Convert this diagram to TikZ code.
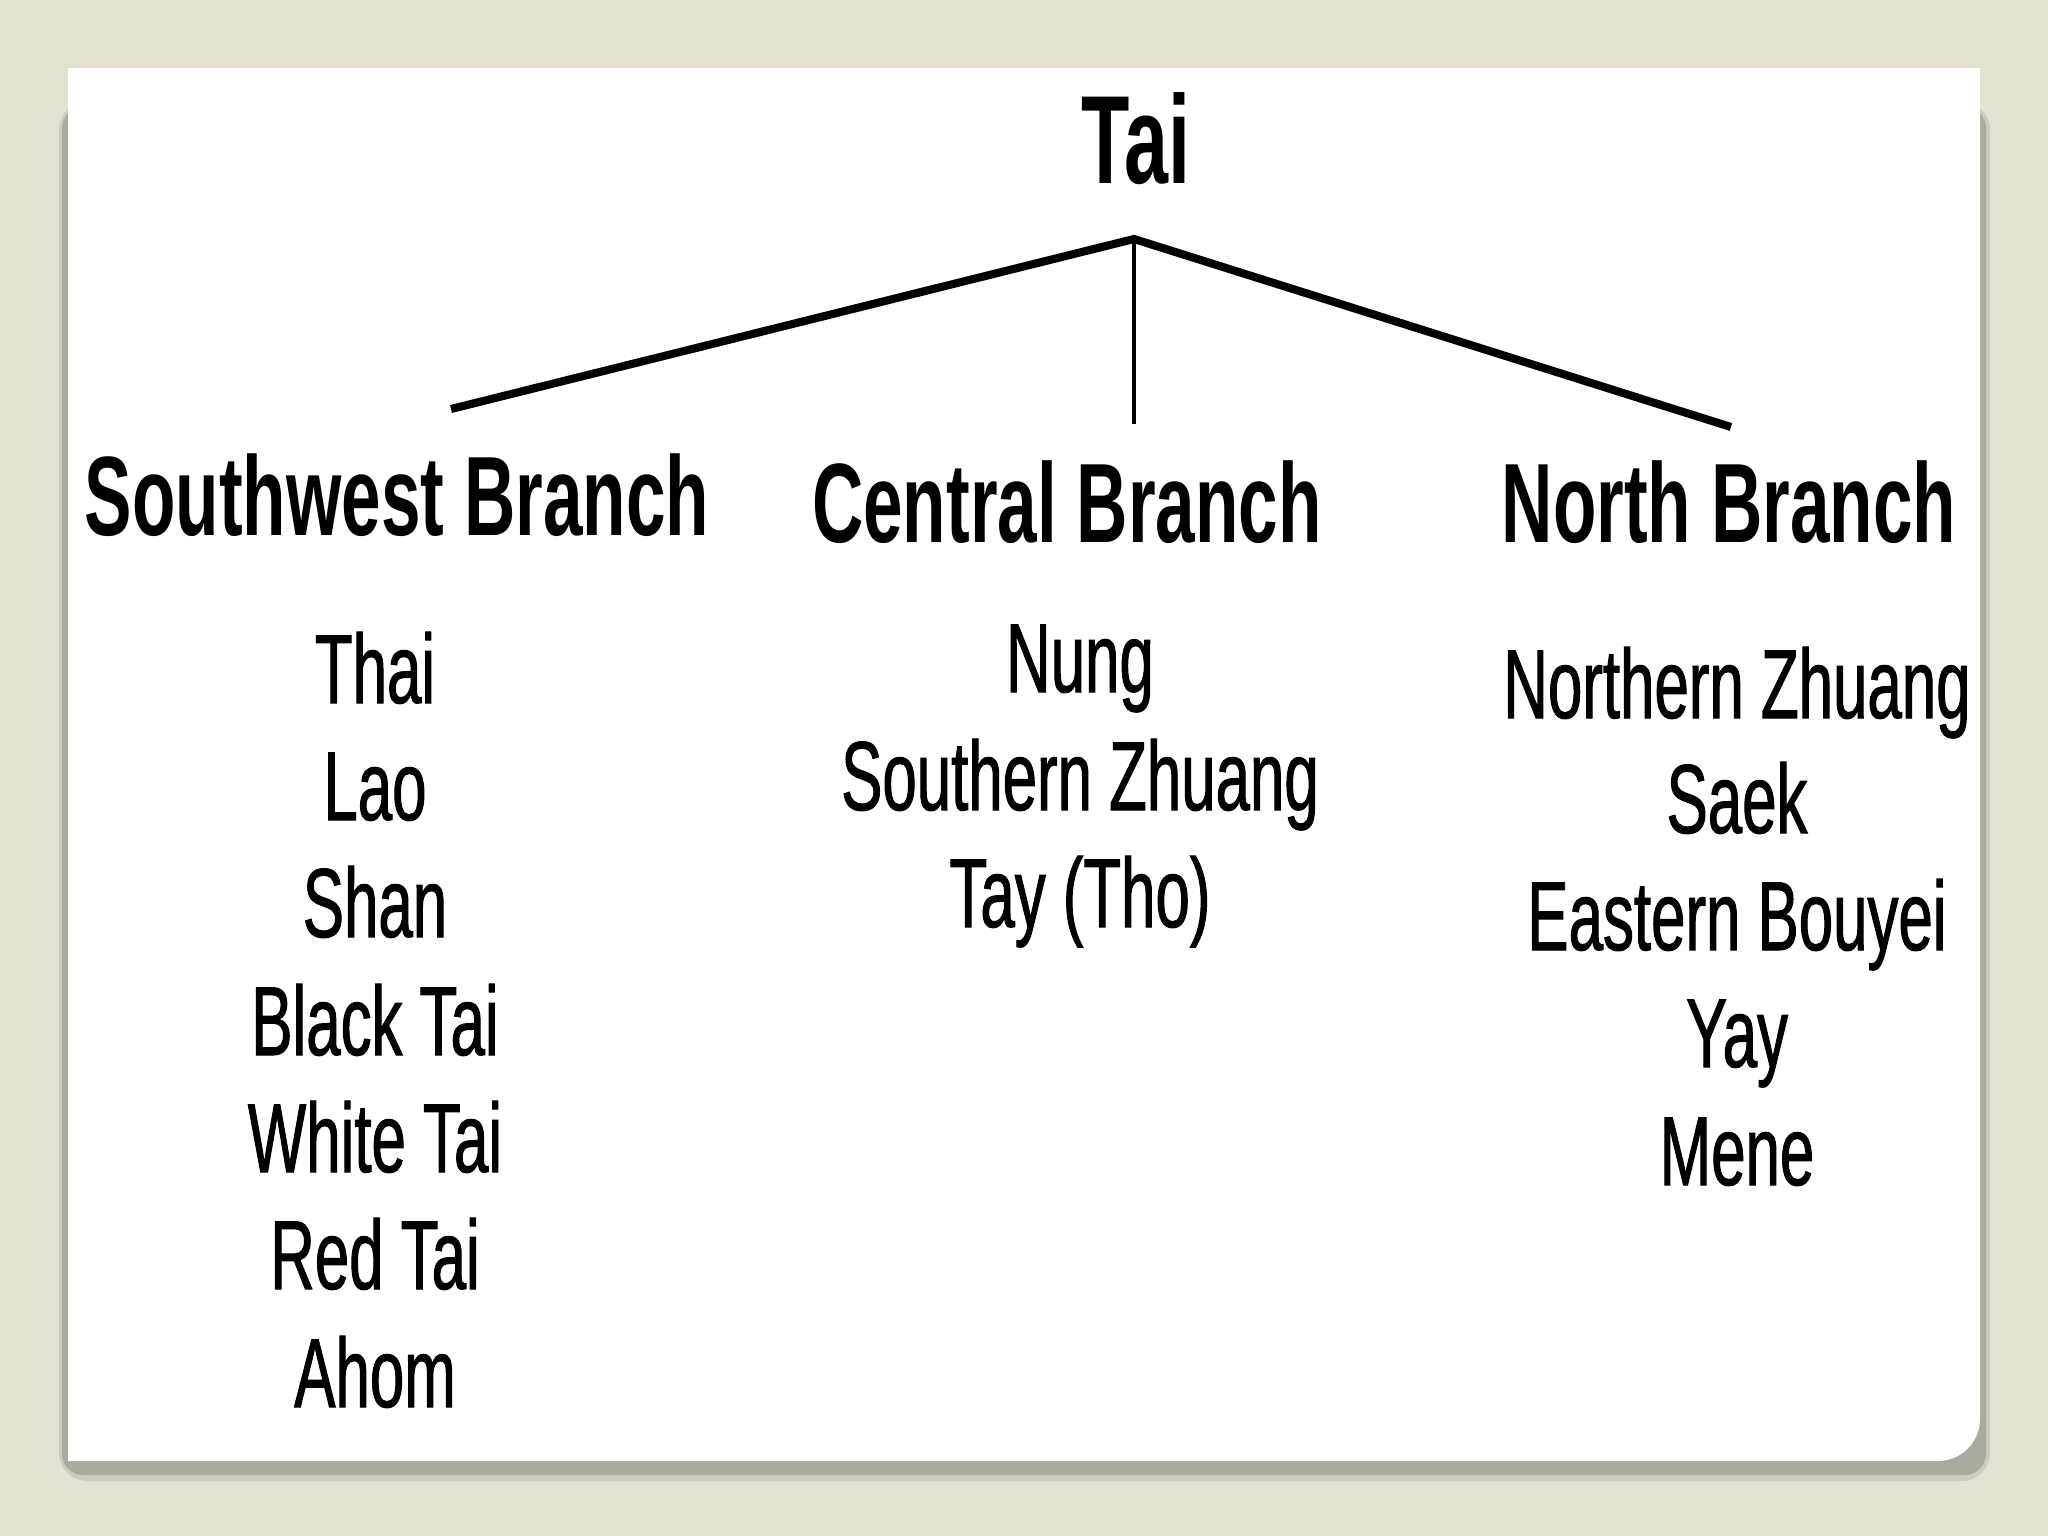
\documentclass[tikz,border=0pt]{standalone}
\usepackage{fontspec}
\setmainfont[FakeStretch=0.63]{Liberation Sans}
\newfontfamily\itemfont[FakeStretch=0.63,FakeBold=1.0]{Liberation Sans}
\definecolor{bgc}{HTML}{E3E0D1}
\definecolor{shadowa}{HTML}{CDCBBE}
\definecolor{shadowb}{HTML}{ABAA9F}
\tikzset{
  title/.style={inner sep=0pt, anchor=base, font=\fontsize{35.7}{40}\selectfont\bfseries},
  branch/.style={inner sep=0pt, anchor=base, font=\fontsize{32.1}{36}\selectfont\bfseries},
  item/.style={inner sep=0pt, anchor=base, font=\itemfont\fontsize{27.9}{32}\selectfont},
  thickline/.style={line width=2.3pt},
  thinline/.style={line width=1.1pt}
}
\begin{document}
\begin{tikzpicture}[x=0.01cm, y=-0.01cm]
\useasboundingbox (0,0) rectangle (2048,1536);
\fill[bgc] (0,0) rectangle (2048,1536);
% shadow
\fill[shadowa, rounded corners=8] (59,102) rectangle (1990,1481);
\fill[shadowb, rounded corners=6] (62,107) rectangle (1986,1475);
% card
\fill[white] (68,68) -- (1980,68) [rounded corners=12] -- (1980,1461) [sharp corners] -- (68,1461) -- cycle;

% title
\node[title] (tai) at (1136,183) {Tai};
% branches
\node[branch] (sw) at (397,535) {Southwest Branch};
\node[branch] (ce) at (1067,542) {Central Branch};
\node[branch] (no) at (1729,542) {North Branch};

% connectors
\coordinate (apex) at (1134,239);
\coordinate (swend) at (451,409);
\coordinate (ceend) at (1134,424);
\coordinate (noend) at (1731,427);
\draw[thickline] (swend) -- (apex) -- (noend);
\draw[thinline] (apex) -- (ceend);

% southwest items
\node[item] (sw1) at (375,703) {Thai};
\node[item] (sw2) at (375,820) {Lao};
\node[item] (sw3) at (375,937) {Shan};
\node[item] (sw4) at (375,1055) {Black Tai};
\node[item] (sw5) at (375,1172) {White Tai};
\node[item] (sw6) at (375,1289) {Red Tai};
\node[item] (sw7) at (375,1407) {Ahom};

% central items
\node[item] (ce1) at (1080,692) {Nung};
\node[item] (ce2) at (1080,810) {Southern Zhuang};
\node[item] (ce3) at (1080,927) {Tay (Tho)};

% north items
\node[item] (no1) at (1737,718) {Northern Zhuang};
\node[item] (no2) at (1737,833) {Saek};
\node[item] (no3) at (1737,950) {Eastern Bouyei};
\node[item] (no4) at (1737,1067) {Yay};
\node[item] (no5) at (1737,1185) {Mene};
\end{tikzpicture}
\end{document}
